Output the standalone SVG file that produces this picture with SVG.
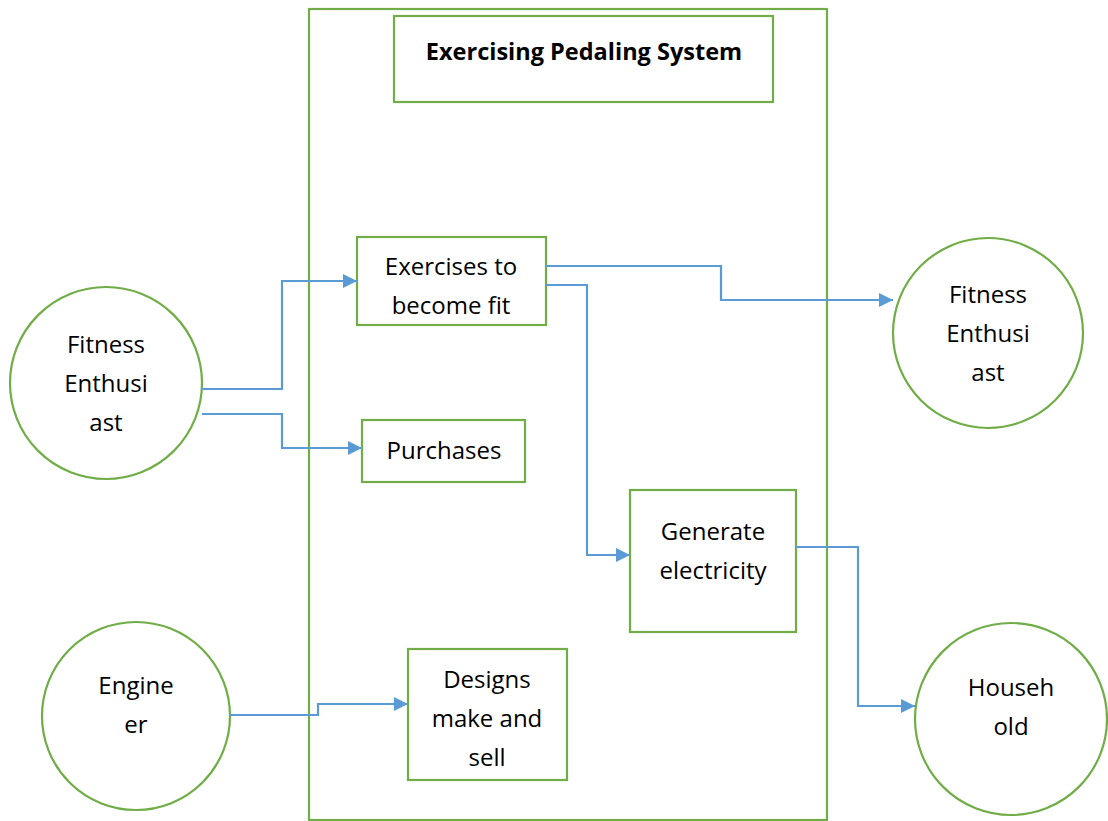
<svg xmlns="http://www.w3.org/2000/svg" width="1108" height="821" viewBox="0 0 1108 821">
<style>
.box{fill:#fff;stroke:#70AD47;stroke-width:2.2}
.t{font-family:"Open Sans","Liberation Sans",sans-serif;font-size:24px;fill:#000;text-anchor:middle}
.b{font-weight:bold;font-size:23.5px}
.c{fill:none;stroke:#5B9BD5;stroke-width:2.2;marker-end:url(#ah)}
</style>
<defs>
<marker id="ah" viewBox="0 0 10 10" refX="10" refY="5" markerUnits="userSpaceOnUse" markerWidth="14" markerHeight="14" orient="auto">
<path d="M0,0 L10,5 L0,10 z" fill="#5B9BD5"/>
</marker>
</defs>
<rect width="1108" height="821" fill="#fff"/>
<g id="system"><rect class="box" x="309" y="9" width="518" height="811" fill="none"/></g>
<g id="title"><rect class="box" x="394" y="16" width="379" height="86"/><text class="t b" x="584" y="60">Exercising Pedaling System</text></g>
<g id="exercises"><rect class="box" x="357" y="237" width="189" height="88"/><text class="t" x="451" y="275">Exercises to</text><text class="t" x="451" y="314">become fit</text></g>
<g id="purchases"><rect class="box" x="362" y="420" width="163" height="62"/><text class="t" x="444" y="459">Purchases</text></g>
<g id="generate"><rect class="box" x="630" y="490" width="166" height="142"/><text class="t" x="713" y="540">Generate</text><text class="t" x="713" y="579">electricity</text></g>
<g id="designs"><rect class="box" x="408" y="649" width="159" height="131"/><text class="t" x="487" y="688">Designs</text><text class="t" x="487" y="727">make and</text><text class="t" x="487" y="766">sell</text></g>
<g id="fitness1"><circle class="box" cx="106" cy="383" r="96"/><text class="t" x="106" y="353">Fitness</text><text class="t" x="106" y="392">Enthusi</text><text class="t" x="106" y="431">ast</text></g>
<g id="fitness2"><circle class="box" cx="988" cy="333" r="95"/><text class="t" x="988" y="303">Fitness</text><text class="t" x="988" y="342">Enthusi</text><text class="t" x="988" y="381">ast</text></g>
<g id="engineer"><circle class="box" cx="136" cy="716" r="94"/><text class="t" x="136" y="694">Engine</text><text class="t" x="136" y="733">er</text></g>
<g id="household"><circle class="box" cx="1011" cy="719" r="96"/><text class="t" x="1011" y="696">Househ</text><text class="t" x="1011" y="735">old</text></g>
<g id="connectors">
<path class="c" d="M202,389 H282 V281 H357"/>
<path class="c" d="M202,414 H282 V448 H362"/>
<path class="c" d="M546,266 H721 V300 H893"/>
<path class="c" d="M546,285 H587 V555 H630"/>
<path class="c" d="M796,547 H858 V706 H915"/>
<path class="c" d="M229,715 H318 V704 H408"/>
</g>
</svg>
